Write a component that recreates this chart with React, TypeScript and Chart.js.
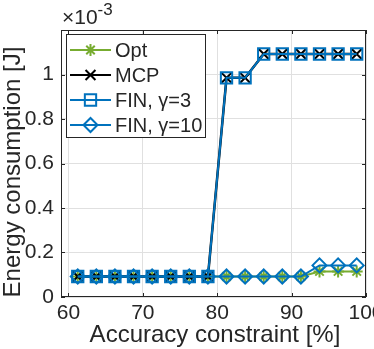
import React, { useEffect, useRef } from 'react';
import { Chart, registerables } from 'chart.js';
import { drawPoint } from 'chart.js/helpers';

Chart.register(...registerables);

// ---- data (energy in units of 1e-3 J) ----
const accuracy = [61.25, 63.75, 66.25, 68.75, 71.25, 73.75, 76.25, 78.75, 81.25, 83.75, 86.25, 88.75, 91.25, 93.75, 96.25, 98.75];
const optEnergy = [0.092, 0.092, 0.092, 0.092, 0.092, 0.092, 0.092, 0.092, 0.092, 0.092, 0.092, 0.092, 0.092, 0.115, 0.115, 0.115];
const mcpEnergy = [0.092, 0.092, 0.092, 0.092, 0.092, 0.092, 0.092, 0.092, 0.985, 0.985, 1.092, 1.092, 1.092, 1.092, 1.092, 1.092];
const fin3Energy = [0.092, 0.092, 0.092, 0.092, 0.092, 0.092, 0.092, 0.092, 0.985, 0.985, 1.092, 1.092, 1.092, 1.092, 1.092, 1.092];
const fin10Energy = [0.092, 0.092, 0.092, 0.092, 0.092, 0.092, 0.092, 0.092, 0.092, 0.092, 0.092, 0.092, 0.092, 0.142, 0.142, 0.142];
const seriesLabels = ['Opt', 'MCP', 'FIN, γ=3', 'FIN, γ=10'];
const xTicks = [60, 70, 80, 90, 100];
const yTicks = [0, 0.2, 0.4, 0.6, 0.8, 1];
const xTitle = 'Accuracy constraint [%]';
const yTitle = 'Energy consumption [J]';
const exponentBase = '×10';
const exponentPower = '-3';

const GREEN = '#77AC30';
const BLUE = '#0072BD';
const BLACK = '#000000';
const AXIS = '#262626';
const GRID = '#e0e0e0';
const FONT = '"Liberation Sans", Arial, Helvetica, sans-serif';

const toPts = (ys: number[]) => ys.map((y, i) => ({ x: accuracy[i], y }));

const decorPlugin = {
  id: 'decor',
  afterDraw(chart: any) {
    const ctx = chart.ctx as CanvasRenderingContext2D;
    const { left, right, top, bottom } = chart.chartArea;
    const xs = chart.scales.x;
    const ys = chart.scales.y;
    ctx.save();
    // box
    ctx.strokeStyle = AXIS;
    ctx.lineWidth = 1;
    ctx.strokeRect(Math.round(left) + 0.5, Math.round(top) + 0.5, Math.round(right - left) - 1, Math.round(bottom - top) - 1);
    // inward ticks
    const tl = 4;
    ctx.beginPath();
    xTicks.forEach((v) => {
      const px = Math.round(xs.getPixelForValue(v)) + 0.5;
      ctx.moveTo(px, bottom);
      ctx.lineTo(px, bottom - tl);
      ctx.moveTo(px, top);
      ctx.lineTo(px, top + tl);
    });
    yTicks.forEach((v) => {
      const py = Math.round(ys.getPixelForValue(v)) + 0.5;
      ctx.moveTo(left, py);
      ctx.lineTo(left + tl, py);
      ctx.moveTo(right, py);
      ctx.lineTo(right - tl, py);
    });
    ctx.stroke();

    // exponent label
    ctx.fillStyle = AXIS;
    ctx.textBaseline = 'alphabetic';
    ctx.textAlign = 'left';
    ctx.font = `21px ${FONT}`;
    ctx.fillText(exponentBase, 62, 24);
    const w = ctx.measureText(exponentBase).width;
    ctx.font = `17px ${FONT}`;
    ctx.fillText(exponentPower, 62 + w, 15);

    // axis titles
    ctx.font = `24px ${FONT}`;
    ctx.textAlign = 'center';
    ctx.textBaseline = 'alphabetic';
    ctx.fillText(xTitle, 215, 342);
    ctx.save();
    ctx.translate(20, 172);
    ctx.rotate(-Math.PI / 2);
    ctx.fillText(yTitle, 0, 0);
    ctx.restore();

    // legend
    const L = 66, T = 34, W = 139, H = 103;
    ctx.fillStyle = '#ffffff';
    ctx.fillRect(L, T, W, H);
    ctx.strokeStyle = AXIS;
    ctx.lineWidth = 1;
    ctx.strokeRect(L + 0.5, T + 0.5, W, H);
    chart.data.datasets.forEach((ds: any, i: number) => {
      const y = 50 + i * 25;
      ctx.strokeStyle = ds.borderColor;
      ctx.lineWidth = 2;
      ctx.beginPath();
      ctx.moveTo(70, y);
      ctx.lineTo(111, y);
      ctx.stroke();
      ctx.fillStyle = 'rgba(0,0,0,0)';
      drawPoint(ctx, { pointStyle: ds.pointStyle, radius: ds.pointRadius, borderWidth: 2, rotation: 0 } as any, 90.5, y);
      ctx.fillStyle = AXIS;
      ctx.font = `20px ${FONT}`;
      ctx.textAlign = 'left';
      ctx.textBaseline = 'middle';
      ctx.fillText(seriesLabels[i], 115, y + 1);
    });
    ctx.restore();
  },
};

export default function App() {
  const ref = useRef<HTMLCanvasElement | null>(null);
  useEffect(() => {
    if (!ref.current) return;
    const common = { borderWidth: 2, pointBorderWidth: 2, backgroundColor: 'rgba(0,0,0,0)', pointBackgroundColor: 'rgba(0,0,0,0)', tension: 0 };
    const chart = new Chart(ref.current, {
      type: 'line',
      data: {
        datasets: [
          { ...common, label: seriesLabels[0], data: toPts(optEnergy), borderColor: GREEN, pointBorderColor: GREEN, pointStyle: 'star', pointRadius: 6, order: 3 },
          { ...common, label: seriesLabels[1], data: toPts(mcpEnergy), borderColor: BLACK, pointBorderColor: BLACK, pointStyle: 'crossRot', pointRadius: 7, order: 2, borderWidth: 2.5 },
          { ...common, label: seriesLabels[2], data: toPts(fin3Energy), borderColor: BLUE, pointBorderColor: BLUE, pointStyle: 'rect', pointRadius: 8, order: 1 },
          { ...common, label: seriesLabels[3], data: toPts(fin10Energy), borderColor: BLUE, pointBorderColor: BLUE, pointStyle: 'rectRot', pointRadius: 7, order: 0 },
        ] as any,
      },
      options: {
        animation: false,
        responsive: false,
        devicePixelRatio: 1,
        layout: { padding: { left: 0, top: 30, right: 34, bottom: 0 } },
        plugins: { legend: { display: false }, tooltip: { enabled: false } },
        scales: {
          x: {
            type: 'linear',
            min: 59,
            max: 100,
            afterBuildTicks: (s: any) => { s.ticks = xTicks.map((v) => ({ value: v })); },
            afterFit: (s: any) => { s.height = 52; },
            grid: { color: GRID, drawTicks: false },
            border: { display: false },
            ticks: { color: AXIS, font: { family: FONT, size: 21 }, padding: 4, maxRotation: 0, autoSkip: false, callback: (v: any) => String(v) },
          },
          y: {
            type: 'linear',
            min: 0,
            max: 1.2,
            afterBuildTicks: (s: any) => { s.ticks = yTicks.map((v) => ({ value: v })); },
            afterFit: (s: any) => { s.width = 61; },
            grid: { color: GRID, drawTicks: false },
            border: { display: false },
            ticks: { color: AXIS, font: { family: FONT, size: 21 }, padding: 7, autoSkip: false, callback: (v: any) => String(Math.round(v * 10) / 10) },
          },
        },
      } as any,
      plugins: [decorPlugin],
    });
    return () => chart.destroy();
  }, []);
  return (
    <div style={{ position: 'fixed', left: 0, top: 0, width: 374, height: 349, overflow: 'hidden', background: '#fff' }}>
      <canvas ref={ref} width={400} height={349} style={{ display: 'block' }} />
    </div>
  );
}
